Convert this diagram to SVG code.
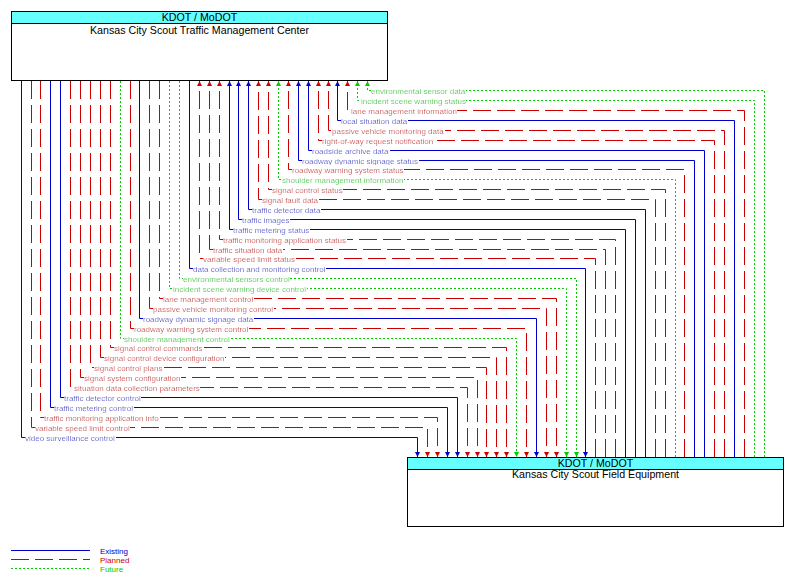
<svg xmlns="http://www.w3.org/2000/svg" width="791" height="582" viewBox="0 0 791 582">
<defs>
<style>
.box{fill:#fff;stroke:#000;stroke-width:1}
.hdr{fill:#66FFFF;stroke:#000;stroke-width:1}
.bt{font-family:"Liberation Sans",Arial,sans-serif;font-size:10.67px;fill:#000;text-anchor:middle}
.ex{fill:none;stroke:#0000CC;stroke-width:1}
.pl{fill:none;stroke:#CC0000;stroke-width:1;stroke-dasharray:18 6}
.fu{fill:none;stroke:#00CC00;stroke-width:1;stroke-dasharray:2 2}
.lb{font-family:"Liberation Sans",Arial,sans-serif;font-size:8px}
.tex{fill:#0000CC}
.tpl{fill:#CC0000}
.tfu{fill:#00CC00}
.lab{filter:url(#bg)}
.ex.a{marker-end:url(#mb)}
.pl.a{marker-end:url(#mr)}
.fu.a{marker-end:url(#mg)}
</style>
<filter id="bg" x="0" y="0" width="1" height="1"><feFlood flood-color="#ffffff"/><feComposite in="SourceGraphic" operator="over"/></filter>
<marker id="mb" viewBox="0 0 5 6" refX="5" refY="3" markerWidth="5" markerHeight="6" markerUnits="userSpaceOnUse" orient="auto"><path d="M0,0.5 L5,3 L0,5.5z" fill="#0000CC"/></marker>
<marker id="mr" viewBox="0 0 5 6" refX="5" refY="3" markerWidth="5" markerHeight="6" markerUnits="userSpaceOnUse" orient="auto"><path d="M0,0.5 L5,3 L0,5.5z" fill="#CC0000"/></marker>
<marker id="mg" viewBox="0 0 5 6" refX="5" refY="3" markerWidth="5" markerHeight="6" markerUnits="userSpaceOnUse" orient="auto"><path d="M0,0.5 L5,3 L0,5.5z" fill="#00CC00"/></marker>
</defs>
<rect width="791" height="582" fill="#fff"/>
<g id="node-tmc">
<rect class="box" x="11.5" y="11.5" width="376" height="69"/>
<rect class="hdr" x="11.5" y="11.5" width="376" height="12"/>
<text class="bt" x="199.5" y="21">KDOT / MoDOT</text>
<text class="bt" x="199.5" y="33.6">Kansas City Scout Traffic Management Center</text>
</g>
<g id="node-fe">
<rect class="box" x="407.5" y="457.5" width="376" height="69"/>
<rect class="hdr" x="407.5" y="457.5" width="376" height="12"/>
<text class="bt" x="595.5" y="467.3">KDOT / MoDOT</text>
<text class="bt" x="595.5" y="478.4">Kansas City Scout Field Equipment</text>
</g>
<g id="connectors">
<path class="fu a" d="M764.5,457 V90.5 H367.5 V81"/>
<path class="fu a" d="M754.5,457 V100.5 H357.5 V81"/>
<path class="pl a" d="M744.5,457 V110.5 H347.5 V81"/>
<path class="ex a" d="M734.5,457 V120.5 H337.5 V81"/>
<path class="pl a" d="M724.5,457 V130.5 H328.5 V81"/>
<path class="pl a" d="M714.5,457 V140.5 H318.5 V81"/>
<path class="ex a" d="M704.5,457 V150.5 H308.5 V81"/>
<path class="ex a" d="M694.5,457 V160.5 H298.5 V81"/>
<path class="pl a" d="M684.5,457 V169.5 H288.5 V81"/>
<path class="fu a" d="M675.5,457 V179.5 H278.5 V81"/>
<path class="pl a" d="M665.5,457 V189.5 H268.5 V81"/>
<path class="pl a" d="M655.5,457 V199.5 H258.5 V81"/>
<path class="ex a" d="M645.5,457 V209.5 H248.5 V81"/>
<path class="ex a" d="M635.5,457 V219.5 H238.5 V81"/>
<path class="ex a" d="M625.5,457 V229.5 H229.5 V81"/>
<path class="pl a" d="M615.5,457 V239.5 H219.5 V81"/>
<path class="pl a" d="M605.5,457 V249.5 H209.5 V81"/>
<path class="pl a" d="M595.5,457 V258.5 H199.5 V81"/>
<path class="ex a" d="M189.5,81 V268.5 H585.5 V457"/>
<path class="fu a" d="M179.5,81 V278.5 H576.5 V457"/>
<path class="fu a" d="M169.5,81 V288.5 H566.5 V457"/>
<path class="pl a" d="M159.5,81 V298.5 H556.5 V457"/>
<path class="pl a" d="M149.5,81 V308.5 H546.5 V457"/>
<path class="ex a" d="M139.5,81 V318.5 H536.5 V457"/>
<path class="pl a" d="M130.5,81 V328.5 H526.5 V457"/>
<path class="fu a" d="M120.5,81 V338.5 H516.5 V457"/>
<path class="pl a" d="M110.5,81 V347.5 H506.5 V457"/>
<path class="pl a" d="M100.5,81 V357.5 H496.5 V457"/>
<path class="pl a" d="M90.5,81 V367.5 H486.5 V457"/>
<path class="pl a" d="M80.5,81 V377.5 H477.5 V457"/>
<path class="pl a" d="M70.5,81 V387.5 H467.5 V457"/>
<path class="ex a" d="M60.5,81 V397.5 H457.5 V457"/>
<path class="ex a" d="M50.5,81 V407.5 H447.5 V457"/>
<path class="pl a" d="M40.5,81 V417.5 H437.5 V457"/>
<path class="pl a" d="M31.5,81 V427.5 H427.5 V457"/>
<path class="ex a" d="M21.5,81 V437.5 H417.5 V457"/>
</g>
<g id="labels" class="lb">
<text class="lab tfu" x="371" y="93.7">environmental sensor data</text>
<text class="lab tfu" x="361" y="103.7">incident scene warning status</text>
<text class="lab tpl" x="351" y="113.7">lane management information</text>
<text class="lab tex" x="341" y="123.7">local situation data</text>
<text class="lab tpl" x="332" y="133.7">passive vehicle monitoring data</text>
<text class="lab tpl" x="322" y="143.7">right-of-way request notification</text>
<text class="lab tex" x="312" y="153.7">roadside archive data</text>
<text class="lab tex" x="302" y="163.7">roadway dynamic signage status</text>
<text class="lab tpl" x="292" y="172.7">roadway warning system status</text>
<text class="lab tfu" x="282" y="182.7">shoulder management information</text>
<text class="lab tpl" x="272" y="192.7">signal control status</text>
<text class="lab tpl" x="262" y="202.7">signal fault data</text>
<text class="lab tex" x="252" y="212.7">traffic detector data</text>
<text class="lab tex" x="242" y="222.7">traffic images</text>
<text class="lab tex" x="233" y="232.7">traffic metering status</text>
<text class="lab tpl" x="223" y="242.7">traffic monitoring application status</text>
<text class="lab tpl" x="213" y="252.7">traffic situation data</text>
<text class="lab tpl" x="203" y="261.7">variable speed limit status</text>
<text class="lab tex" x="193" y="271.7">data collection and monitoring control</text>
<text class="lab tfu" x="183" y="281.7">environmental sensors control</text>
<text class="lab tfu" x="173" y="291.7">incident scene warning device control</text>
<text class="lab tpl" x="163" y="301.7">lane management control</text>
<text class="lab tpl" x="153" y="311.7">passive vehicle monitoring control</text>
<text class="lab tex" x="143" y="321.7">roadway dynamic signage data</text>
<text class="lab tpl" x="134" y="331.7">roadway warning system control</text>
<text class="lab tfu" x="124" y="341.7">shoulder management control</text>
<text class="lab tpl" x="114" y="350.7">signal control commands</text>
<text class="lab tpl" x="104" y="360.7">signal control device configuration</text>
<text class="lab tpl" x="94" y="370.7">signal control plans</text>
<text class="lab tpl" x="84" y="380.7">signal system configuration</text>
<text class="lab tpl" x="74" y="390.7">situation data collection parameters</text>
<text class="lab tex" x="64" y="400.7">traffic detector control</text>
<text class="lab tex" x="54" y="410.7">traffic metering control</text>
<text class="lab tpl" x="44" y="420.7">traffic monitoring application info</text>
<text class="lab tpl" x="35" y="430.7">variable speed limit control</text>
<text class="lab tex" x="25" y="440.7">video surveillance control</text>
</g>
<g id="legend">
<path class="ex" d="M11,550.5 H90"/>
<path class="pl" d="M11,559.5 H90"/>
<path class="fu" d="M11,568.5 H90"/>
<text class="lb tex" x="100" y="554">Existing</text>
<text class="lb tpl" x="100" y="563">Planned</text>
<text class="lb tfu" x="100" y="572">Future</text>
</g>
</svg>
